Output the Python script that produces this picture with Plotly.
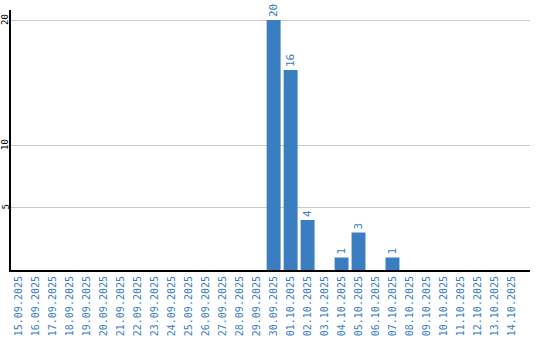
import plotly.graph_objects as go

dates = ["15.09.2025","16.09.2025","17.09.2025","18.09.2025","19.09.2025","20.09.2025",
         "21.09.2025","22.09.2025","23.09.2025","24.09.2025","25.09.2025","26.09.2025",
         "27.09.2025","28.09.2025","29.09.2025","30.09.2025","01.10.2025","02.10.2025",
         "03.10.2025","04.10.2025","05.10.2025","06.10.2025","07.10.2025","08.10.2025",
         "09.10.2025","10.10.2025","11.10.2025","12.10.2025","13.10.2025","14.10.2025"]
values = [0,0,0,0,0,0,0,0,0,0,0,0,0,0,0,20,16,4,0,1,3,0,1,0,0,0,0,0,0,0]
ytick_vals = [5, 10, 20]

blue = "#3b7dc1"
labels = [str(v) if v else "" for v in values]

fig = go.Figure(go.Bar(
    x=list(range(len(dates))), y=values, marker_color=blue, marker_line_width=0,
    text=labels, textposition="outside", textangle=-90,
    textfont=dict(color=blue, size=11, family="DejaVu Sans Mono"),
    cliponaxis=False, constraintext="none",
))
for v in ytick_vals:
    fig.add_annotation(x=0, xref="paper", y=v, yref="y", text=str(v), showarrow=False,
                       textangle=-90, xanchor="center", yanchor="middle", xshift=-6,
                       font=dict(color="black", size=9, family="DejaVu Sans Mono"))
fig.update_layout(
    width=540, height=340, margin=dict(l=11, r=10, t=10, b=70, autoexpand=False),
    paper_bgcolor="white", plot_bgcolor="white", showlegend=False, bargap=0.18,
    xaxis=dict(tickmode="array", tickvals=list(range(len(dates))), ticktext=dates,
               tickangle=-90, range=[-0.47, 30.1], showgrid=False, automargin=False,
               showline=True, linecolor="black", linewidth=2,
               tickfont=dict(color=blue, size=10, family="DejaVu Sans Mono"), ticks=""),
    yaxis=dict(tickmode="array", tickvals=ytick_vals, range=[0, 20.8], automargin=False,
               showticklabels=False, showgrid=True, gridcolor="#c8c8c8", gridwidth=1,
               showline=True, linecolor="black", linewidth=2, zeroline=False, ticks=""),
)
fig.write_html("out.html")
